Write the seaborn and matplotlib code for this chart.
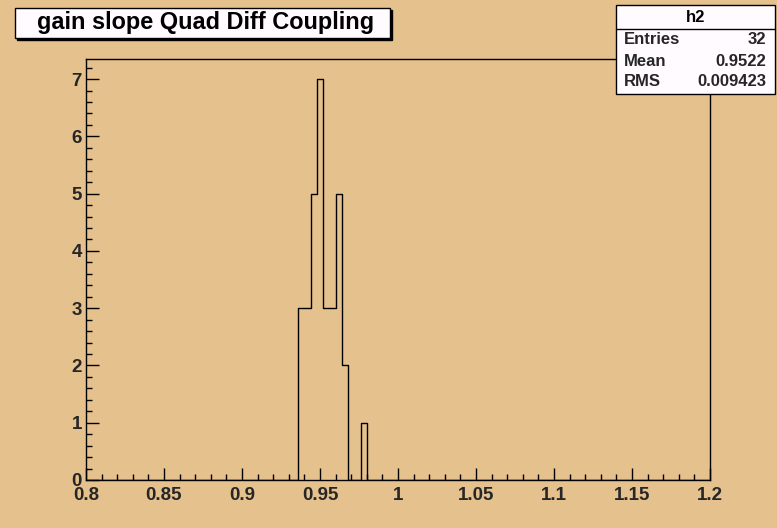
import numpy as np
import pandas as pd
import matplotlib
matplotlib.use("Agg")
import matplotlib.pyplot as plt
import seaborn as sns
from matplotlib.patches import Rectangle
from matplotlib.ticker import MultipleLocator

# ---- data ----
bin_centers = [0.938, 0.942, 0.946, 0.950, 0.954, 0.958, 0.962, 0.966, 0.978]
bin_counts = [3, 3, 5, 7, 3, 3, 5, 2, 1]
x_min, x_max, n_bins = 0.8, 1.2, 100
title_text = "gain slope Quad Diff Coupling"
stats_name = "h2"
stats_labels = ["Entries", "Mean", "RMS"]
stats_values = ["32", "0.9522", "0.009423"]

BG = "#E5C18D"
W, H = 777, 528

sns.set_style("ticks")
plt.rcParams["font.family"] = ["Liberation Sans", "DejaVu Sans"]
plt.rcParams["font.weight"] = "bold"

fig = plt.figure(figsize=(W / 100, H / 100), dpi=100, facecolor=BG)
ax = fig.add_axes([86 / W, 1 - 480 / H, (710 - 86) / W, (480 - 59) / H])
ax.set_facecolor(BG)

df = pd.DataFrame({"x": bin_centers, "w": bin_counts})
sns.histplot(data=df, x="x", weights="w", binrange=(x_min, x_max),
             binwidth=(x_max - x_min) / n_bins, element="step",
             fill=False, color="black", linewidth=1.0, ax=ax)

ax.set_xlim(x_min, x_max)
ax.set_ylim(0, 7.35)
ax.set_xlabel("")
ax.set_ylabel("")

ax.xaxis.set_major_locator(MultipleLocator(0.05))
ax.xaxis.set_minor_locator(MultipleLocator(0.01))
ax.yaxis.set_major_locator(MultipleLocator(1))
ax.yaxis.set_minor_locator(MultipleLocator(0.2))
xt = [round(v, 2) for v in np.arange(x_min, x_max + 1e-9, 0.05)]
ax.set_xticks(xt)
ax.set_xticklabels([("%g" % v) for v in xt])
ax.set_xlim(x_min, x_max)

ax.tick_params(axis="both", which="major", direction="in", length=9, width=1,
               color="black", labelsize=13.5, pad=3, top=False, right=False)
ax.tick_params(axis="both", which="minor", direction="in", length=4.5, width=1,
               color="black", top=False, right=False)
ax.tick_params(axis="x", which="major", pad=5)
for lab in ax.get_xticklabels() + ax.get_yticklabels():
    lab.set_fontweight("bold")
for s in ax.spines.values():
    s.set_visible(True)
    s.set_color("black")
    s.set_linewidth(1.0)

def fx(px):
    return px / W

def fy(py):
    return 1 - py / H

# title box with shadow
tx0, ty0, tx1, ty1 = 15, 8, 390, 38
fig.patches.append(Rectangle((fx(tx0 + 2), fy(ty1 + 2)), (tx1 - tx0) / W, (ty1 - ty0) / H,
                             transform=fig.transFigure, facecolor="black", edgecolor="black", lw=1))
fig.patches.append(Rectangle((fx(tx0), fy(ty1)), (tx1 - tx0) / W, (ty1 - ty0) / H,
                             transform=fig.transFigure, facecolor="#FFFBFF", edgecolor="black", lw=1))
fig.text(fx(206), fy(22), title_text, ha="center", va="center",
         fontsize=16.9, fontweight="bold", color="black")

# stats box
sx0, sy0, sx1, sy1 = 616, 5, 775, 94
fig.patches.append(Rectangle((fx(sx0), fy(sy1)), (sx1 - sx0) / W, (sy1 - sy0) / H,
                             transform=fig.transFigure, facecolor="#FFFBFF", edgecolor="black", lw=1))
fig.lines.append(plt.Line2D([fx(sx0), fx(sx1)], [fy(29), fy(29)], transform=fig.transFigure,
                            color="black", lw=1))
fig.text(fx((sx0 + sx1) / 2), fy(18), stats_name, ha="center", va="center",
         fontsize=12, fontweight="bold", color="black")
row_y = [40, 61, 82]
for lab, val, yy in zip(stats_labels, stats_values, row_y):
    fig.text(fx(624), fy(yy), lab, ha="left", va="center", fontsize=12, fontweight="bold")
    fig.text(fx(766), fy(yy), val, ha="right", va="center", fontsize=12, fontweight="bold")

fig.savefig("out.png", dpi=100, facecolor=BG)
